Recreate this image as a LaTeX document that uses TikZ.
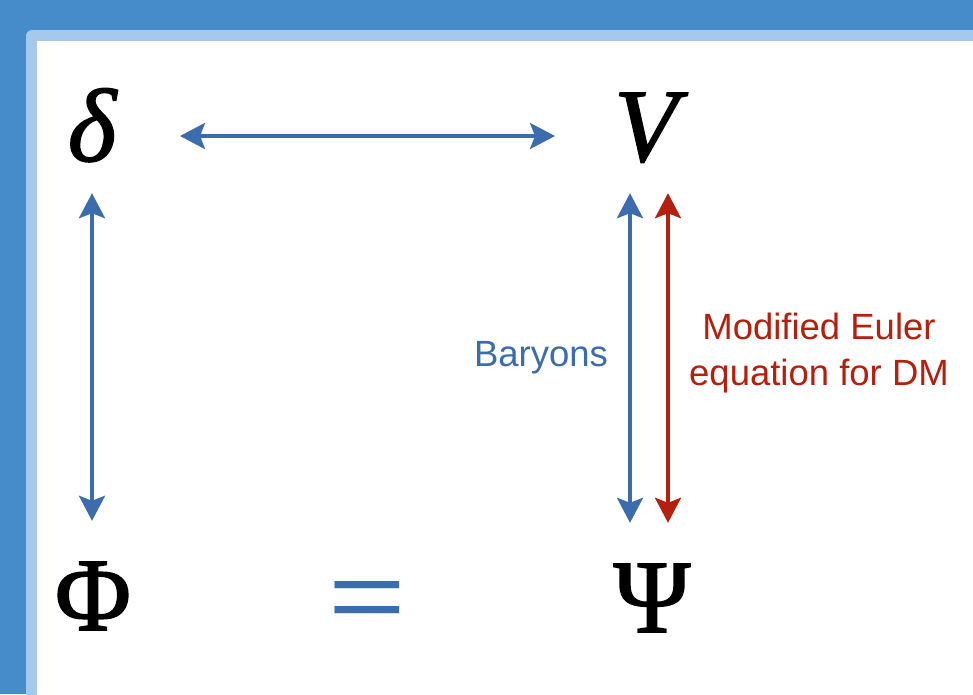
\documentclass[tikz,border=0pt]{standalone}
\usepackage{fontspec}
\setmainfont{Liberation Serif}
\newfontfamily\symfont[FakeBold=1.5]{Liberation Serif}
\newfontfamily\labelfont{Liberation Sans}
\usetikzlibrary{arrows.meta}
\definecolor{frameblue}{HTML}{468BCA}
\definecolor{lightframe}{HTML}{A6C9EB}
\definecolor{arrblue}{HTML}{3B6DAE}
\definecolor{arrred}{HTML}{B5200E}
\begin{document}
\begin{tikzpicture}[x=1pt,y=-1pt,
  sym/.style={inner sep=0pt, anchor=base, text depth=0pt, font=\symfont\fontsize{104}{104}\selectfont},
  barr/.style={draw=arrblue, line width=3.5pt, {Stealth[length=25pt,width=26pt,inset=5pt]}-{Stealth[length=25pt,width=26pt,inset=5pt]}},
  rarr/.style={draw=arrred, line width=3.5pt, {Stealth[length=25pt,width=26pt,inset=5pt]}-{Stealth[length=25pt,width=26pt,inset=5pt]}},
  lbl/.style={inner sep=0pt, font=\labelfont\fontsize{36.5}{46}\selectfont, align=center}]
\useasboundingbox (0,0) rectangle (973,694);
\clip (0,0) rectangle (973,694);
% frame
\fill[frameblue] (0,0) rectangle (973,694);
\fill[lightframe, rounded corners=6pt] (26,30) rectangle (1000,720);
\fill[white] (37,41) rectangle (1000,720);
% symbols
\node[sym, text height=72pt] (d) at (92,161) {\itshape δ};
\node[sym, text height=72pt] (V) at (646,161) {\itshape V};
\node[sym, text height=72pt] (Phi) at (93,630) {Φ};
\node[sym, text height=74pt] (Psi) at (652,632) {Ψ};
\node[inner sep=0pt, anchor=base, text=arrblue, xscale=1.33, font=\labelfont\fontsize{100}{100}\selectfont] (eq) at (367,630) {=};
% connectors
\draw[barr, shorten <=88pt, shorten >=91pt] ([yshift=-11pt]d.center) -- ([yshift=-11pt]V.center);
\draw[barr, shorten <=32pt, shorten >=37pt] (d.south) -- (d.south |- Phi.north);
\draw[barr, shorten <=32pt, shorten >=35pt] ([xshift=-16pt]V.south) -- ([xshift=-22pt]Psi.north);
\draw[rarr, shorten <=32pt, shorten >=35pt] ([xshift=22pt]V.south) -- ([xshift=16pt]Psi.north);
% labels
\node[lbl, text=arrblue, anchor=base] (bary) at (541,366) {Baryons};
\node[lbl, text=arrred] (euler) at (819,353) {Modified Euler\\equation for DM};
\end{tikzpicture}
\end{document}
